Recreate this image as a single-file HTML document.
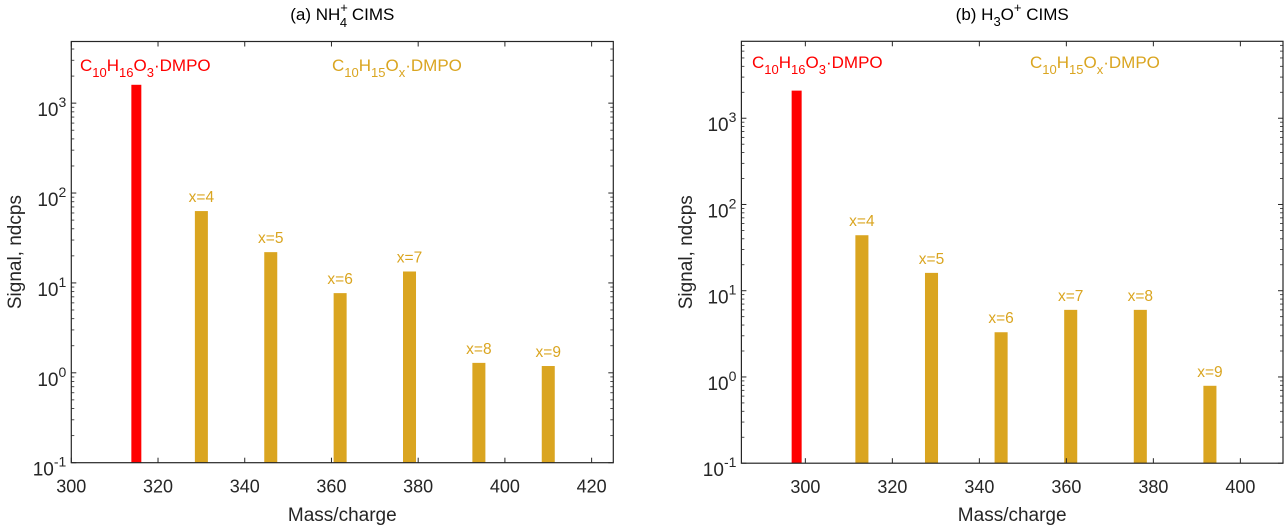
<!DOCTYPE html>
<html><head><meta charset="utf-8"><style>
html,body{margin:0;padding:0;background:#fff;}
svg{display:block;font-family:"Liberation Sans",sans-serif;}
</style></head><body>
<svg id="chart" width="1284" height="527" viewBox="0 0 1284 527" xmlns="http://www.w3.org/2000/svg"></svg>
<script>
// Panel (a) NH4+ CIMS
const aMasses = [315, 330, 346, 362, 378, 394, 410];
const aValues = [1600, 63, 22, 7.7, 13.4, 1.29, 1.19];
const aLabels = ['', 'x=4', 'x=5', 'x=6', 'x=7', 'x=8', 'x=9'];
const aXTicks = [300, 320, 340, 360, 380, 400, 420];
// Panel (b) H3O+ CIMS
const bMasses = [298, 313, 329, 345, 361, 377, 393];
const bValues = [2090, 44, 16.1, 3.3, 6.0, 6.0, 0.79];
const bLabels = ['', 'x=4', 'x=5', 'x=6', 'x=7', 'x=8', 'x=9'];
const bXTicks = [300, 320, 340, 360, 380, 400];
const yTickExps = [-1, 0, 1, 2, 3];

const NS = 'http://www.w3.org/2000/svg';
const svg = document.getElementById('chart');
const RED = '#ff0000', GOLD = '#daa520', INK = '#262626';
function mk(tag, attrs, parent){const e=document.createElementNS(NS,tag);for(const k in attrs)e.setAttribute(k,attrs[k]);(parent||svg).appendChild(e);return e;}

function panel(cfg){
  const g = mk('g',{});
  
  
  const {L,R,T,B,xmin,xmax,ymin,ymax} = cfg;
  const xs = v => L + (v - xmin) / (xmax - xmin) * (R - L);
  const ys = v => B - (Math.log10(v) - Math.log10(ymin)) / (Math.log10(ymax) - Math.log10(ymin)) * (B - T);
  cfg.masses.forEach((m,i)=>{
    const red = i===0;
    const w = red ? 2.3 : 3.0;
    const x0 = xs(m - w/2), x1 = xs(m + w/2), y = ys(cfg.values[i]);
    const r = mk('rect',{x:x0,y:y,width:x1-x0,height:B-y,fill:red?RED:GOLD},g);
    
    
    if(cfg.labels[i]){
      const t = mk('text',{x:xs(m),y:y-9,'text-anchor':'middle','font-size':15.5,fill:GOLD},g);
      t.textContent = cfg.labels[i];
      
      
    }
  });
  const box = mk('rect',{x:L,y:T,width:R-L,height:B-T,fill:'none',stroke:INK,'stroke-width':1.2},g);
  
  
  cfg.xticks.forEach(v=>{
    const x = xs(v);
    mk('line',{x1:x,y1:B,x2:x,y2:B-5,stroke:INK},g);
    mk('line',{x1:x,y1:T,x2:x,y2:T+5,stroke:INK},g);
    const t = mk('text',{x:x,y:B+30,'text-anchor':'middle','font-size':18,fill:INK},g);
    t.textContent = v;
    
    
  });
  yTickExps.forEach(e=>{
    const y = ys(Math.pow(10,e));
    mk('line',{x1:L,y1:y,x2:L+5,y2:y,stroke:INK},g);
    mk('line',{x1:R,y1:y,x2:R-5,y2:y,stroke:INK},g);
    const t = mk('text',{x:L-5,y:y+13,'text-anchor':'end','font-size':19,fill:INK},g);
    
    
    const s1 = mk('tspan',{},t); s1.textContent='10';
    const s2 = mk('tspan',{dy:-9,'font-size':14},t); s2.textContent = String(e);
    for(let k=2;k<=9;k++){
      const v = k*Math.pow(10,e);
      if(v>cfg.ymax) break;
      const ym = ys(v);
      mk('line',{x1:L,y1:ym,x2:L+3,y2:ym,stroke:INK,'stroke-width':0.8},g);
      mk('line',{x1:R,y1:ym,x2:R-3,y2:ym,stroke:INK,'stroke-width':0.8},g);
    }
  });
  const l1 = mk('text',{x:cfg.redX,y:cfg.legY,'font-size':17,fill:RED},g);
  
  
  l1.innerHTML = 'C<tspan font-size="13" dy="6">10</tspan><tspan dy="-6">H</tspan><tspan font-size="13" dy="6">16</tspan><tspan dy="-6">O</tspan><tspan font-size="13" dy="6">3</tspan><tspan dy="-6">·DMPO</tspan>';
  const l2 = mk('text',{x:cfg.goldX,y:cfg.legY,'font-size':17,fill:GOLD},g);
  
  
  l2.innerHTML = 'C<tspan font-size="13" dy="6">10</tspan><tspan dy="-6">H</tspan><tspan font-size="13" dy="6">15</tspan><tspan dy="-6">O</tspan><tspan font-size="13" dy="6">x</tspan><tspan dy="-6">·DMPO</tspan>';
  const tt = mk('text',{x:(L+R)/2,y:20,'text-anchor':'middle','font-size':17,fill:'#000'},g);
  
  
  tt.innerHTML = cfg.title;
  const xl = mk('text',{x:(L+R)/2,y:521,'text-anchor':'middle','font-size':19,fill:INK},g);
  xl.textContent = 'Mass/charge';
  
  
  const yl = mk('text',{x:0,y:0,'text-anchor':'middle','font-size':19,fill:INK,transform:`translate(${cfg.ylX},${(T+B)/2-0}) rotate(-90)`},g);
  yl.textContent = 'Signal, ndcps';
  
  
}

panel({name:'panel-a-nh4-cims',L:71.3,R:613.3,T:41.5,B:462.7,xmin:300,xmax:425,ymin:0.1,ymax:4850,
  masses:aMasses,values:aValues,labels:aLabels,xticks:aXTicks,redX:80,goldX:332,legY:71,ylX:21,
  title:'(a) NH<tspan font-size="13" dy="-8">+</tspan><tspan font-size="13" dx="-8" dy="15">4</tspan><tspan dy="-7"> CIMS</tspan>'});
panel({name:'panel-b-h3o-cims',L:741.4,R:1283,T:41.3,B:463.2,xmin:285.3,xmax:409.8,ymin:0.1,ymax:7800,
  masses:bMasses,values:bValues,labels:bLabels,xticks:bXTicks,redX:752,goldX:1030,legY:68,ylX:692,
  title:'(b) H<tspan font-size="13" dy="6">3</tspan><tspan dy="-6">O</tspan><tspan font-size="13" dy="-8">+</tspan><tspan dy="8"> CIMS</tspan>'});
</script>
</body></html>
